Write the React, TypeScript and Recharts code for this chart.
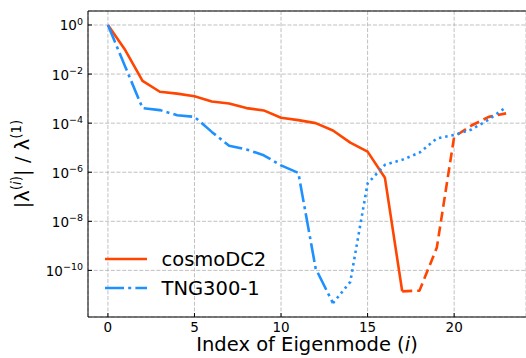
import React from "react";
import {
  LineChart,
  Line,
  XAxis,
  YAxis,
  CartesianGrid,
  ReferenceLine,
  Legend,
} from "recharts";

const MODE_INDEX = [0, 1, 2, 3, 4, 5, 6, 7, 8, 9, 10, 11, 12, 13, 14, 15, 16, 17, 18, 19, 20, 21, 22, 23];

const COSMO_DC2 = [
  1, 9.5e-2, 5.3e-3, 1.9e-3, 1.6e-3, 1.25e-3, 7.6e-4, 6.3e-4, 4.1e-4, 3.3e-4, 1.65e-4, 1.33e-4,
  1.0e-4, 5.0e-5, 1.6e-5, 6.9e-6, 6.0e-7, 1.4e-11, 1.5e-11, 8.5e-10, 2.8e-5, 8.0e-5, 1.8e-4, 2.5e-4,
];

const TNG300_1 = [
  1, 2.0e-2, 4.1e-4, 3.4e-4, 2.1e-4, 1.8e-4, 4.4e-5, 1.2e-5, 8.5e-6, 4.9e-6, 1.9e-6, 9.4e-7,
  1.2e-10, 4.6e-12, 3.4e-11, 3.5e-7, 2.0e-6, 3.2e-6, 6.3e-6, 2.4e-5, 3.3e-5, 5.5e-5, 1.4e-4, 4.5e-4,
];

// index where each curve switches line style
const COSMO_SOLID_END = 17;
const TNG_DASHDOT_END = 13;

const SERIES_NAMES = ["cosmoDC2", "TNG300-1"];

const X_TICKS = [0, 5, 10, 15, 20];
const Y_TICKS = [1e-10, 1e-8, 1e-6, 1e-4, 1e-2, 1];
const X_DOMAIN = [-1.15, 24.15];
const Y_DOMAIN = [Math.pow(10, -11.9), Math.pow(10, 0.57)];

const ORANGE = "#ff4500";
const BLUE = "#1e90ff";
const FONT = "'DejaVu Sans', sans-serif";
const LINE_W = 2.6;
const DASHED = "10 5";
const DASH_DOT = "19 4.2 3 4.2";
const DOTTED = "2.5 3.8";

const rows = MODE_INDEX.map((idx, k) => ({
  index: idx,
  cosmoSolid: k <= COSMO_SOLID_END ? COSMO_DC2[k] : null,
  cosmoDashed: k >= COSMO_SOLID_END ? COSMO_DC2[k] : null,
  tngDashDot: k <= TNG_DASHDOT_END ? TNG300_1[k] : null,
  tngDotted: k >= TNG_DASHDOT_END ? TNG300_1[k] : null,
}));

function XTick(props: any) {
  const { x, y, payload } = props;
  return (
    <g>
      <line x1={x} x2={x} y1={y} y2={y - 4} stroke="#000" strokeWidth={1} />
      <text x={x} y={y + 15} textAnchor="middle" fontFamily={FONT} fontSize={13.5} fill="#000">
        {payload.value}
      </text>
    </g>
  );
}

function YTick(props: any) {
  const { x, y, payload } = props;
  const exp = Math.round(Math.log10(payload.value));
  const label = exp < 0 ? "\u2212" + Math.abs(exp) : String(exp);
  return (
    <g>
      <line x1={x} x2={x + 4} y1={y} y2={y} stroke="#000" strokeWidth={1} />
      <text x={x - 5} y={y + 5.5} textAnchor="end" fontFamily={FONT} fontSize={13.5} fill="#000">
        10
        <tspan dy={-5.7} fontSize={9.5}>
          {label}
        </tspan>
      </text>
    </g>
  );
}

function XLabel(props: any) {
  const vb = props.viewBox || { x: 88, y: 317, width: 438, height: 41 };
  return (
    <text
      x={vb.x + vb.width / 2}
      y={vb.y + 34}
      textAnchor="middle"
      fontFamily={FONT}
      fontSize={19.5}
      fill="#000"
    >
      Index of Eigenmode (<tspan fontStyle="italic">i</tspan>)
    </text>
  );
}

function YLabel(props: any) {
  const vb = props.viewBox || { x: 0, y: 11, width: 88, height: 306 };
  const cx = 28.5;
  const cy = vb.y + vb.height / 2;
  return (
    <text
      x={cx}
      y={cy}
      transform={`rotate(-90, ${cx}, ${cy})`}
      textAnchor="middle"
      fontFamily={FONT}
      fontSize={19.5}
      fill="#000"
    >
      |λ
      <tspan dy={-8} fontSize={13.5}>
        (<tspan fontStyle="italic">i</tspan>)
      </tspan>
      <tspan dy={8}>| / λ</tspan>
      <tspan dy={-8} fontSize={13.5}>
        (1)
      </tspan>
    </text>
  );
}

function LegendContent({ payload }: any) {
  const items = SERIES_NAMES.map((name) =>
    (payload || []).find((entry: any) => entry.value === name)
  ).filter(Boolean);
  return (
    <div style={{ fontFamily: FONT, fontSize: 19.5, color: "#000" }}>
      {items.map((entry: any) => (
        <div key={entry.value} style={{ display: "flex", alignItems: "center", height: 28.4 }}>
          <svg width={42} height={6} style={{ display: "block" }}>
            <line
              x1={0}
              x2={42}
              y1={3}
              y2={3}
              stroke={entry.color}
              strokeWidth={LINE_W}
              strokeDasharray={entry.payload?.strokeDasharray}
            />
          </svg>
          <span style={{ marginLeft: 14.5, lineHeight: 1, position: "relative", top: 0.7 }}>
            {entry.value}
          </span>
        </div>
      ))}
    </div>
  );
}

export default function App() {
  return (
    <div style={{ position: "absolute", left: 0, top: 0, width: 526, height: 358, background: "#fff" }}>
      <LineChart width={526} height={358} data={rows} margin={{ top: 11, right: 0, bottom: 0, left: 0 }}>
        <CartesianGrid stroke="#b0b0b0" strokeWidth={0.8} strokeDasharray="4 1.7" />
        <XAxis
          type="number"
          dataKey="index"
          domain={X_DOMAIN}
          ticks={X_TICKS}
          allowDataOverflow
          height={41}
          tickSize={0}
          tickMargin={0}
          tick={<XTick />}
          axisLine={{ stroke: "#000", strokeWidth: 1 }}
          tickLine={false}
          label={(p: any) => <XLabel viewBox={p.viewBox} />}
        />
        <YAxis
          type="number"
          scale="log"
          domain={Y_DOMAIN}
          ticks={Y_TICKS}
          allowDataOverflow
          width={88}
          tickSize={0}
          tickMargin={0}
          tick={<YTick />}
          axisLine={{ stroke: "#000", strokeWidth: 1 }}
          tickLine={false}
          label={(p: any) => <YLabel viewBox={p.viewBox} />}
        />
        <ReferenceLine y={Y_DOMAIN[1]} stroke="#000" strokeWidth={1} />
        <Legend
          layout="vertical"
          align="center"
          verticalAlign="middle"
          content={<LegendContent />}
          wrapperStyle={{ left: 105, top: 245, width: "auto", height: "auto" }}
        />
        <Line
          dataKey="cosmoSolid"
          name="cosmoDC2"
          stroke={ORANGE}
          strokeWidth={LINE_W}
          strokeLinejoin="round"
          dot={false}
          activeDot={false}
          isAnimationActive={false}
        />
        <Line
          dataKey="cosmoDashed"
          name="cosmoDC2 (cont.)"
          legendType="none"
          stroke={ORANGE}
          strokeWidth={LINE_W}
          strokeDasharray={DASHED}
          strokeLinejoin="round"
          dot={false}
          activeDot={false}
          isAnimationActive={false}
        />
        <Line
          dataKey="tngDashDot"
          name="TNG300-1"
          stroke={BLUE}
          strokeWidth={LINE_W}
          strokeDasharray={DASH_DOT}
          strokeLinejoin="round"
          dot={false}
          activeDot={false}
          isAnimationActive={false}
        />
        <Line
          dataKey="tngDotted"
          name="TNG300-1 (cont.)"
          legendType="none"
          stroke={BLUE}
          strokeWidth={LINE_W}
          strokeDasharray={DOTTED}
          strokeLinejoin="round"
          dot={false}
          activeDot={false}
          isAnimationActive={false}
        />
      </LineChart>
    </div>
  );
}
